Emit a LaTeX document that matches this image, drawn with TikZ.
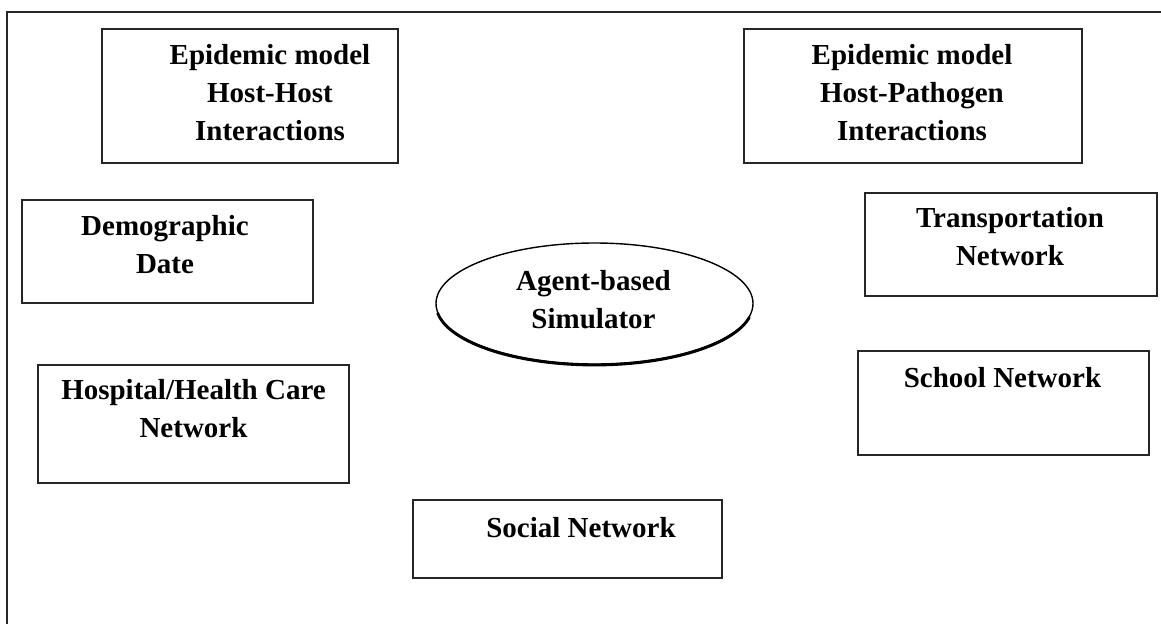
\documentclass[tikz,border=0pt]{standalone}
\usepackage{fontspec}
\setmainfont{Liberation Serif}
\usetikzlibrary{shapes.geometric}
\begin{document}
\begin{tikzpicture}[x=1pt,y=-1pt,
  box/.style={draw=black!85,line width=1.5pt,inner sep=0pt,outer sep=0pt},
  lbl/.style={inner sep=0pt,outer sep=0pt,align=center,anchor=base,
    font=\fontsize{29}{38}\selectfont\bfseries},
  simell/.style={draw=black,ellipse,line width=1.4pt,inner sep=0pt}]
\useasboundingbox (0,0) rectangle (1161,624);
% outer frame
\coordinate (fbl) at (7,624);
\coordinate (ftl) at (7,12);
\coordinate (ftr) at (1161,12);
\draw[line width=1.5pt,black!85] (fbl) -- (ftl) -- (ftr);
% boxes
\node[box,minimum width=296pt,minimum height=134pt] (hh) at (250,96) {};
\node[box,minimum width=338pt,minimum height=134pt] (hp) at (913,96) {};
\node[box,minimum width=291pt,minimum height=103pt] (demo) at (167.5,251.5) {};
\node[box,minimum width=311pt,minimum height=118pt] (hosp) at (193.5,424) {};
\node[box,minimum width=292pt,minimum height=103pt] (trans) at (1011,244.5) {};
\node[box,minimum width=291pt,minimum height=104pt] (school) at (1003.5,403) {};
\node[box,minimum width=309pt,minimum height=78pt] (social) at (567.5,539) {};
% ellipse
\node[simell,minimum width=317pt,minimum height=121pt] (sim) at (594.5,303.5) {};
\draw[line width=2.8pt] ([yshift=-1pt]sim.center) ++(12:158.5 and 60.5) arc[start angle=12,end angle=172,x radius=158.5,y radius=60.5];
% labels (anchor base = baseline of last line)
\node[lbl] (hht) at (270,140) {Epidemic model\\Host-Host\\Interactions};
\node[lbl] (hpt) at (912,140) {Epidemic model\\Host-Pathogen\\Interactions};
\node[lbl] (demot) at (165,273) {Demographic\\Date};
\node[lbl] (hospt) at (193.5,437) {Hospital/Health Care\\Network};
\node[lbl] (transt) at (1010,265) {Transportation\\Network};
\node[lbl] (schoolt) at (1002.5,387) {School Network};
\node[lbl] (socialt) at (581,537) {Social Network};
\node[lbl] (simt) at (593.5,328) {Agent-based\\Simulator};
\end{tikzpicture}
\end{document}
